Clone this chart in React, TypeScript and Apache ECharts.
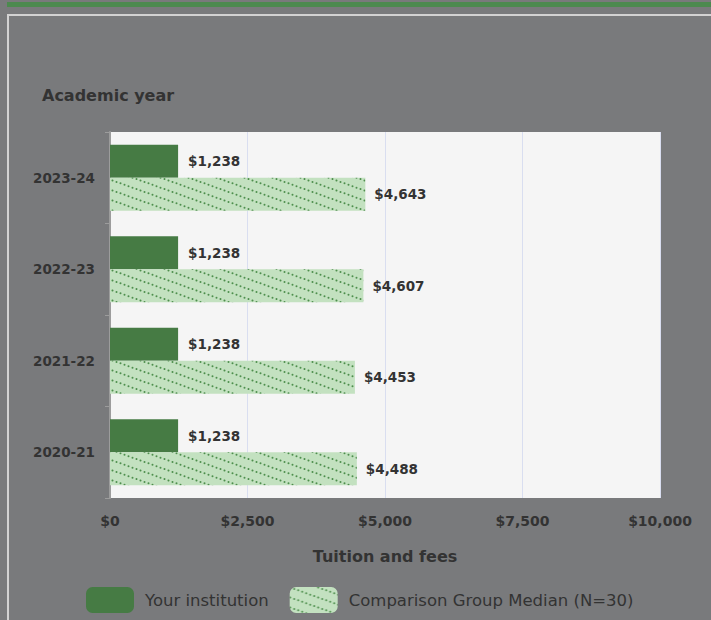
import React, { useEffect, useRef } from "react";
import * as echarts from "echarts";

const years = ["2023-24", "2022-23", "2021-22", "2020-21"];
const yourInstitution = [1238, 1238, 1238, 1238];
const comparisonMedian = [4643, 4607, 4453, 4488];
const xTicks = [0, 2500, 5000, 7500, 10000];
const seriesNames = ["Your institution", "Comparison Group Median (N=30)"];

const FONT = "DejaVu Sans";

function money(v: number): string {
  return "$" + Math.round(v).toLocaleString("en-US");
}

function makePattern() {
  const w = 28;
  const h = 10;
  const c = document.createElement("canvas");
  c.width = w;
  c.height = h;
  const ctx = c.getContext("2d")!;
  ctx.fillStyle = "#c3e1c0";
  ctx.fillRect(0, 0, w, h);
  ctx.fillStyle = "#4e8f4d";
  for (let x = 0; x < w; x += 4) {
    const y = (x * h) / w;
    for (const dx of [-w, 0, w]) {
      for (const dy of [-h, 0, h]) {
        ctx.beginPath();
        ctx.arc(x + dx + 0.5, y + dy + 0.5, 1.0, 0, Math.PI * 2);
        ctx.fill();
      }
    }
  }
  return { image: c.toDataURL(), repeat: "repeat", imageWidth: w, imageHeight: h };
}

export default function App() {
  const ref = useRef<HTMLDivElement>(null);

  useEffect(() => {
    document.body.style.margin = "0";
    if (!ref.current) return;
    const chart = echarts.init(ref.current, undefined, { renderer: "svg" });
    const pattern: any = makePattern();

    const option: any = {
      animation: false,
      backgroundColor: "#797a7c",
      textStyle: { fontFamily: FONT },
      graphic: [
        { type: "rect", shape: { x: 7, y: 2, width: 704, height: 5 }, style: { fill: "#4c8a4f" }, silent: true },
        { type: "rect", shape: { x: 7, y: 14, width: 704, height: 2 }, style: { fill: "#d2d2d2" }, silent: true },
        { type: "rect", shape: { x: 7, y: 14, width: 2, height: 606 }, style: { fill: "#d2d2d2" }, silent: true },
        {
          type: "text",
          left: 42,
          top: 87,
          style: { text: "Academic year", fill: "#333", font: `bold 16px "${FONT}"` },
          silent: true,
        },
      ],
      grid: {
        left: 110,
        right: 51,
        top: 132,
        bottom: 122,
        show: true,
        backgroundColor: "#f5f5f5",
        borderWidth: 0,
      },
      xAxis: {
        type: "value",
        min: xTicks[0],
        max: xTicks[xTicks.length - 1],
        interval: xTicks[1] - xTicks[0],
        name: "Tuition and fees",
        nameLocation: "middle",
        nameGap: 50,
        nameTextStyle: { color: "#333", fontSize: 16, fontWeight: "bold", fontFamily: FONT },
        axisLine: { show: false },
        axisTick: { show: false },
        axisLabel: {
          color: "#333",
          fontSize: 14,
          fontWeight: "bold",
          fontFamily: FONT,
          margin: 16,
          formatter: (v: number) => money(v),
        },
        splitLine: { show: true, lineStyle: { color: "#d9def0", width: 1 } },
      },
      yAxis: {
        type: "category",
        data: years,
        inverse: true,
        axisLine: { show: true, lineStyle: { color: "#9c9c9c", width: 2 } },
        axisTick: { show: true, length: 5, lineStyle: { color: "#9c9c9c" } },
        axisLabel: { color: "#333", fontSize: 13.5, fontWeight: "bold", fontFamily: FONT, margin: 15 },
        splitLine: { show: false },
      },
      legend: {
        left: 86,
        top: 587,
        padding: 0,
        itemWidth: 48,
        itemHeight: 26,
        itemGap: 21,
        icon: "roundRect",
        textStyle: { color: "#333", fontSize: 16.5, fontFamily: FONT, padding: [0, 0, 0, 6] },
        data: seriesNames,
      },
      series: [
        {
          name: seriesNames[0],
          type: "bar",
          data: yourInstitution,
          barWidth: 33,
          barGap: "0%",
          itemStyle: { color: "#467b44" },
          label: {
            show: true,
            position: "right",
            distance: 10,
            color: "#333",
            fontSize: 13.5,
            fontWeight: "bold",
            fontFamily: FONT,
            formatter: (p: any) => money(p.value),
          },
        },
        {
          name: seriesNames[1],
          type: "bar",
          data: comparisonMedian,
          barWidth: 33,
          barGap: "0%",
          itemStyle: { color: pattern },
          label: {
            show: true,
            position: "right",
            distance: 9,
            color: "#333",
            fontSize: 13.5,
            fontWeight: "bold",
            fontFamily: FONT,
            formatter: (p: any) => money(p.value),
          },
        },
      ],
    };
    chart.setOption(option);
    return () => chart.dispose();
  }, []);

  return (
    <div style={{ width: 711, height: 620, background: "#797a7c" }}>
      <div ref={ref} style={{ width: 711, height: 620 }} />
    </div>
  );
}
